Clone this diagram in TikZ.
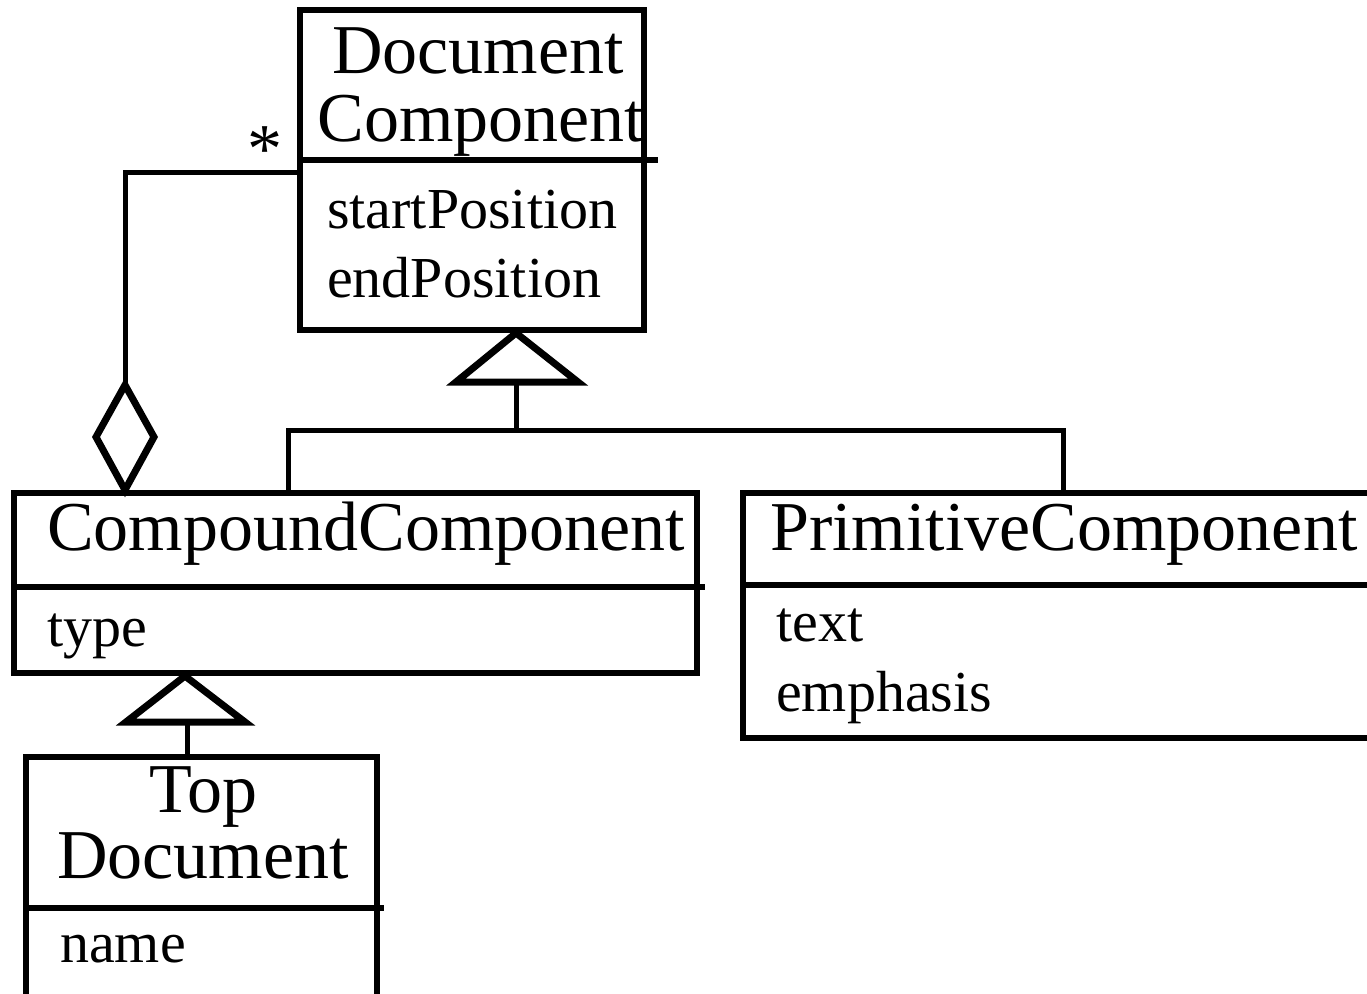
\documentclass[tikz,border=0pt]{standalone}
\usepackage{fontspec}
\setmainfont{Liberation Serif}
\begin{document}
\begin{tikzpicture}[x=1pt,y=-1pt,
  box/.style={draw,line width=5.5pt,anchor=north west,inner sep=0pt,outer sep=0pt},
  divider/.style={line width=5.5pt},
  conn/.style={line width=5pt},
  head/.style={line width=7pt,line join=miter,fill=white},
  title/.style={anchor=base,inner sep=0pt,font=\fontsize{70}{76}\selectfont},
  attr/.style={anchor=base west,inner sep=0pt,font=\fontsize{58}{64}\selectfont}]
\clip (0,0) rectangle (1367,993);
% boxes
\node[box,minimum width=344pt,minimum height=320pt] (dc) at (300,10) {};
\node[box,minimum width=683pt,minimum height=180pt] (cc) at (14,493) {};
\node[box,minimum width=700pt,minimum height=245pt] (pc) at (743,493) {};
\node[box,minimum width=351pt,minimum height=260pt] (td) at (26,757) {};
% dividers
\coordinate (dcL) at (300,160); \coordinate (dcR) at (658,160);
\coordinate (ccL) at (14,587);  \coordinate (ccR) at (705,587);
\coordinate (pcL) at (743,585); \coordinate (pcR) at (1380,585);
\coordinate (tdL) at (26,908);  \coordinate (tdR) at (384,908);
\draw[divider] (dcL) -- (dcR);
\draw[divider] (ccL) -- (ccR);
\draw[divider] (pcL) -- (pcR);
\draw[divider] (tdL) -- (tdR);
% texts
\node[title] (dcT1) at (478,73) {Document};
\node[title] (dcT2) at (481,141) {Component};
\node[attr] (dcA1) at (327,228) {startPosition};
\node[attr] (dcA2) at (327,297) {endPosition};
\node[title,anchor=base west] (ccT) at (47,550) {CompoundComponent};
\node[attr] (ccA1) at (47,646) {type};
\node[title,anchor=base west] (pcT) at (770,550) {PrimitiveComponent};
\node[attr] (pcA1) at (776,641) {text};
\node[attr] (pcA2) at (776,711) {emphasis};
\node[title] (tdT1) at (203,812) {Top};
\node[title] (tdT2) at (203,878) {Document};
\node[attr] (tdA1) at (60,962) {name};
\node[title] (star) at (265,172) {*};
% aggregation
\coordinate (aggStart) at (300,172);
\coordinate (aggBend) at (125,172);
\coordinate (dTop) at (125,385);
\coordinate (dRight) at (154,437);
\coordinate (dBot) at (125,490);
\coordinate (dLeft) at (96,437);
\draw[conn] (aggStart) -- (aggBend) -- (dTop);
\draw[head] (dTop) -- (dRight) -- (dBot) -- (dLeft) -- cycle;
% generalization 1
\coordinate (g1Apex) at (516,333);
\coordinate (g1L) at (456,382);
\coordinate (g1R) at (578,382);
\coordinate (g1Base) at (516,382);
\coordinate (g1Join) at (516,430);
\coordinate (ccJoin) at (288,430);
\coordinate (pcJoin) at (1063,430);
\coordinate (ccTop) at (288,493);
\coordinate (pcTop) at (1063,493);
\draw[conn] (g1Base) -- (g1Join);
\draw[conn] (ccTop) -- (ccJoin) -- (pcJoin) -- (pcTop);
\draw[head] (g1Apex) -- (g1L) -- (g1R) -- cycle;
% generalization 2
\coordinate (g2Apex) at (185,676);
\coordinate (g2L) at (126,722);
\coordinate (g2R) at (245,722);
\coordinate (g2Base) at (187,722);
\coordinate (tdTop) at (187,757);
\draw[conn] (g2Base) -- (tdTop);
\draw[head] (g2Apex) -- (g2L) -- (g2R) -- cycle;
\end{tikzpicture}
\end{document}
